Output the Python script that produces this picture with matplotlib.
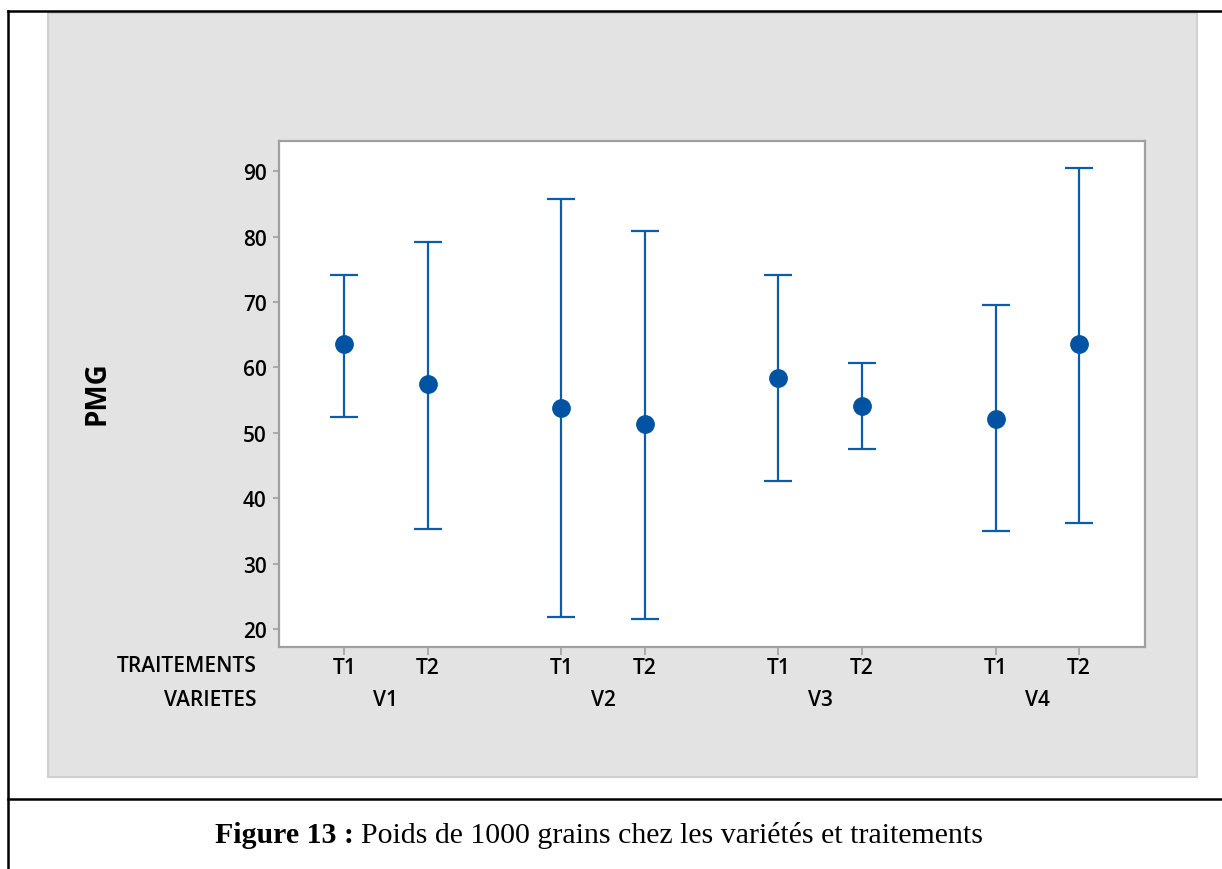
import numpy as np
import matplotlib.pyplot as plt
from matplotlib.patches import Rectangle
from matplotlib.lines import Line2D
from matplotlib.transforms import blended_transform_factory

# data
varietes = ['V1', 'V2', 'V3', 'V4']
traitements = ['T1', 'T2', 'T1', 'T2', 'T1', 'T2', 'T1', 'T2']
moyenne = [63.6, 57.5, 53.8, 51.3, 58.4, 54.1, 52.1, 63.6]
borne_haute = [74.1, 79.2, 85.8, 80.9, 74.1, 60.7, 69.5, 90.4]
borne_basse = [52.4, 35.3, 21.8, 21.5, 42.6, 47.5, 35.0, 36.2]

W, H = 1222, 870
fig = plt.figure(figsize=(W / 100, H / 100), dpi=100)
fig.patch.set_facecolor('white')

def fx(px):
    return px / W

def fy(py):
    return 1 - py / H

# gray panel behind the chart
fig.add_artist(Rectangle((fx(48), fy(778)), fx(1197 - 48), (778 - 14) / H,
                         transform=fig.transFigure, facecolor='#e3e3e3',
                         edgecolor='#cfcfcf', lw=1.5, zorder=0))
# black frame lines of the table cell
for xs, ys in [([8, W], [12, 12]), ([8, 8], [12, H]), ([8, W], [800, 800])]:
    fig.add_artist(Line2D([fx(v) for v in xs], [fy(v) for v in ys],
                          transform=fig.transFigure, color='black', lw=1.8))

ax = fig.add_axes([fx(279), fy(648), fx(1145 - 279), (648 - 142) / H])
ax.set_facecolor('white')

# positions: two treatments per variety, gap between varieties
pos = []
for i in range(len(varietes)):
    pos += [i * 2.6, i * 2.6 + 1]
pos = np.array(pos)
moy = np.array(moyenne)
yerr = [moy - np.array(borne_basse), np.array(borne_haute) - moy]

ax.errorbar(pos, moy, yerr=yerr, fmt='o', color='#0b5cad', mfc='#0052a3',
            mec='#0052a3', ms=12.5, elinewidth=1.6, capsize=10, capthick=1.6)

ax.set_xlim(-0.78, pos[-1] + 0.79)
ax.set_ylim(17.25, 94.6)
ax.set_yticks(range(20, 91, 10))
ax.set_xticks(pos)
ax.set_xticklabels(traitements)

for s in ax.spines.values():
    s.set_color('#a0a0a0')
    s.set_linewidth(1.6)
ax.tick_params(colors='#a0a0a0', width=1.2)
ax.tick_params(axis='x', length=6, pad=1.5)
ax.tick_params(axis='y', length=4, pad=5)
for lab in ax.get_xticklabels() + ax.get_yticklabels():
    lab.set_color('black')
    lab.set_fontfamily('Open Sans')
    lab.set_fontweight('semibold')
    lab.set_fontsize(15)

fig.text(fx(97), fy(393), 'PMG', rotation=90, ha='center', va='center',
         fontfamily='Open Sans', fontweight='bold', fontsize=20)

trans = blended_transform_factory(ax.transData, fig.transFigure)
for i, v in enumerate(varietes):
    ax.text((pos[2 * i] + pos[2 * i + 1]) / 2, fy(701), v, transform=trans,
            ha='center', va='center', fontfamily='Open Sans',
            fontweight='semibold', fontsize=15)
fig.text(fx(257), fy(667), 'TRAITEMENTS', ha='right', va='center',
         fontfamily='Open Sans', fontweight='semibold', fontsize=15)
fig.text(fx(257), fy(701), 'VARIETES', ha='right', va='center',
         fontfamily='Open Sans', fontweight='semibold', fontsize=15)

# caption
cap1 = fig.text(fx(215), fy(836), 'Figure 13 :', ha='left', va='center',
                fontfamily='Liberation Serif', fontweight='bold', fontsize=21.5)
fig.canvas.draw()
bb = cap1.get_window_extent()
fig.text(bb.x1 / W + 0.006, fy(836), 'Poids de 1000 grains chez les variétés et traitements',
         ha='left', va='center', fontfamily='Liberation Serif', fontsize=21.5)

fig.savefig('out.png', dpi=100)
